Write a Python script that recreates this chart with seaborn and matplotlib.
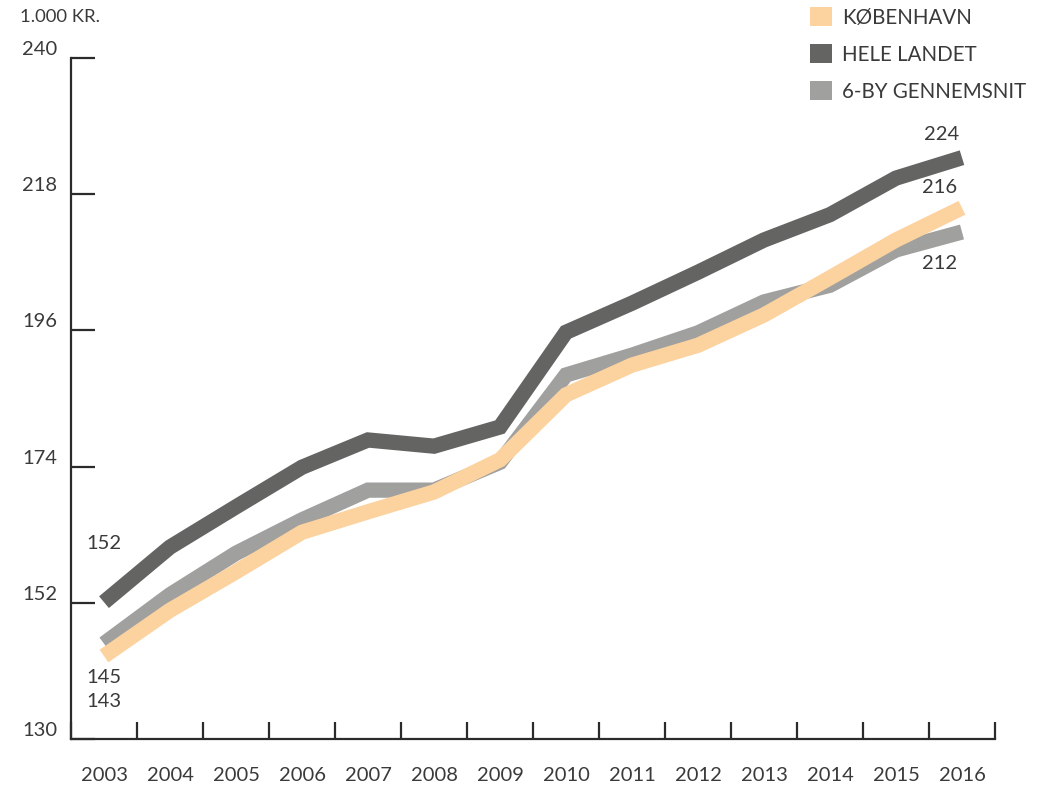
import pandas as pd
import seaborn as sns
import matplotlib.pyplot as plt
from matplotlib.patches import Patch

YEARS = list(range(2003, 2017))
KOBENHAVN = [143.4, 150.8, 157.0, 163.4, 166.7, 169.9, 175.1,
             185.6, 190.4, 193.6, 198.5, 204.5, 210.6, 215.8]
HELE_LANDET = [152.1, 161.0, 167.5, 173.9, 178.3, 177.3, 180.4,
               195.7, 200.4, 205.4, 210.6, 214.7, 220.6, 223.9]
SEKS_BY = [145.4, 153.3, 160.0, 165.4, 170.2, 170.2, 174.7,
           188.8, 192.0, 195.6, 200.6, 203.3, 209.0, 211.9]

SERIES = ["KØBENHAVN", "HELE LANDET", "6-BY GENNEMSNIT"]
COLORS = {"KØBENHAVN": "#fcd29f", "HELE LANDET": "#646462", "6-BY GENNEMSNIT": "#a0a09f"}
Y_TICKS = [130, 152, 174, 196, 218, 240]

TEXT = "#3a3a3a"
AXIS = "#2b2b2b"
FS = 14.5

sns.set_theme(style="white")
plt.rcParams["font.family"] = ["Lato", "DejaVu Sans"]

df = pd.concat([
    pd.DataFrame({"year": YEARS, "value": KOBENHAVN, "serie": "KØBENHAVN"}),
    pd.DataFrame({"year": YEARS, "value": HELE_LANDET, "serie": "HELE LANDET"}),
    pd.DataFrame({"year": YEARS, "value": SEKS_BY, "serie": "6-BY GENNEMSNIT"}),
])

fig = plt.figure(figsize=(10.48, 7.88), dpi=100)
ax = fig.add_axes([71 / 1048, 1 - 739 / 788, 924 / 1048, 681 / 788])

# grey first, orange on top
sns.lineplot(
    data=df, x="year", y="value", hue="serie",
    hue_order=["6-BY GENNEMSNIT", "HELE LANDET", "KØBENHAVN"],
    palette=COLORS, linewidth=11, legend=False, ax=ax,
    solid_capstyle="butt", solid_joinstyle="miter",
)

ax.set_xlim(YEARS[0] - 0.5, YEARS[-1] + 0.5)
ax.set_ylim(Y_TICKS[0], Y_TICKS[-1])
ax.set_xlabel("")
ax.set_ylabel("")

for s in ["top", "right"]:
    ax.spines[s].set_visible(False)
for s in ["left", "bottom"]:
    ax.spines[s].set_color(AXIS)
    ax.spines[s].set_linewidth(1.6)

ax.set_xticks(YEARS)
ax.set_xticklabels([str(y) for y in YEARS])
ax.set_xticks([y - 0.5 for y in YEARS] + [YEARS[-1] + 0.5], minor=True)
ax.tick_params(axis="x", which="major", bottom=True, length=0, pad=20,
               labelsize=FS, labelcolor=TEXT)
ax.tick_params(axis="x", which="minor", bottom=True, direction="in",
               length=12, width=1.6, color=AXIS)

ax.set_yticks(Y_TICKS)
ax.set_yticklabels([str(v) for v in Y_TICKS])
ax.tick_params(axis="y", left=True, direction="in", length=17, width=1.6, color=AXIS,
               pad=10, labelsize=FS, labelcolor=TEXT)
for lab in ax.get_yticklabels():
    lab.set_va("bottom")

fig.text(20 / 1048, 1 - 17 / 788, "1.000 KR.", fontsize=13.3, color=TEXT, va="center", ha="left")

# value labels at start and end of each series
ann = dict(textcoords="offset pixels", fontsize=FS, color=TEXT, ha="center", va="center")
ax.annotate(f"{HELE_LANDET[0]:.0f}", (YEARS[0], HELE_LANDET[0]), xytext=(0, 59), **ann)
ax.annotate(f"{SEKS_BY[0]:.0f}", (YEARS[0], SEKS_BY[0]), xytext=(0, -34), **ann)
ax.annotate(f"{KOBENHAVN[0]:.0f}", (YEARS[0], KOBENHAVN[0]), xytext=(0, -45), **ann)
ax.annotate(f"{HELE_LANDET[-1]:.0f}", (YEARS[-1], HELE_LANDET[-1]), xytext=(-20, 23), **ann)
ax.annotate(f"{KOBENHAVN[-1]:.0f}", (YEARS[-1], KOBENHAVN[-1]), xytext=(-22, 20), **ann)
ax.annotate(f"{SEKS_BY[-1]:.0f}", (YEARS[-1], SEKS_BY[-1]), xytext=(-22, -32), **ann)

handles = [Patch(facecolor=COLORS[s], edgecolor="none", label=s) for s in SERIES]
fig.legend(
    handles=handles, loc="upper left", bbox_to_anchor=(806 / 1048, 1 - 3 / 788),
    frameon=False, fontsize=14.8, labelcolor=TEXT,
    handlelength=1.05, handleheight=1.05, handletextpad=0.5, labelspacing=0.8,
    borderaxespad=0, borderpad=0.2,
)

fig.savefig("out.png", dpi=100)
